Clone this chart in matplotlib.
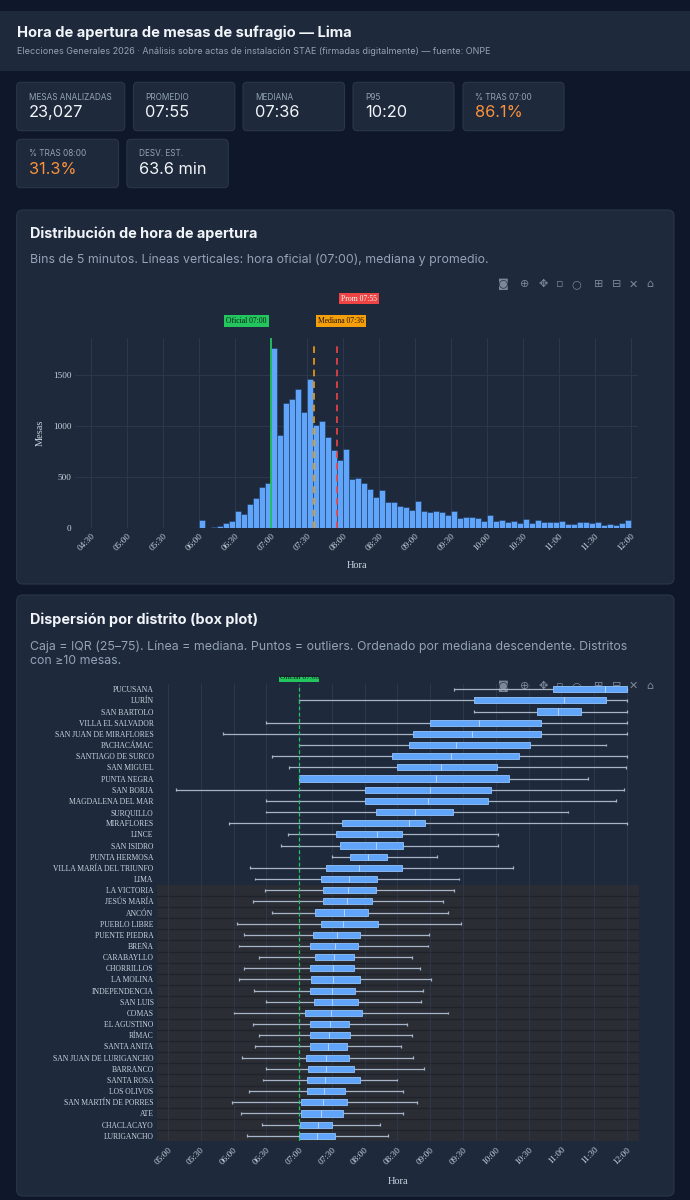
import matplotlib.pyplot as plt
from matplotlib.patches import FancyBboxPatch, Rectangle

# ---- data ----
kpi_labels = ['MESAS ANALIZADAS', 'PROMEDIO', 'MEDIANA', 'P95', '% TRAS 07:00', '% TRAS 08:00', 'DESV. EST.']
kpi_values = ['23,027', '07:55', '07:36', '10:20', '86.1%', '31.3%', '63.6 min']
kpi_warn = [False, False, False, False, True, True, False]

bin_starts = ['06:00', '06:05', '06:10', '06:15', '06:20', '06:25', '06:30', '06:35', '06:40', '06:45', '06:50', '06:55',
              '07:00', '07:05', '07:10', '07:15', '07:20', '07:25', '07:30', '07:35', '07:40', '07:45', '07:50', '07:55',
              '08:00', '08:05', '08:10', '08:15', '08:20', '08:25', '08:30', '08:35', '08:40', '08:45', '08:50', '08:55',
              '09:00', '09:05', '09:10', '09:15', '09:20', '09:25', '09:30', '09:35', '09:40', '09:45', '09:50', '09:55',
              '10:00', '10:05', '10:10', '10:15', '10:20', '10:25', '10:30', '10:35', '10:40', '10:45', '10:50', '10:55',
              '11:00', '11:05', '11:10', '11:15', '11:20', '11:25', '11:30', '11:35', '11:40', '11:45', '11:50', '11:55']
bin_counts = [78, 5, 15, 25, 48, 70, 165, 135, 235, 300, 400, 440,
              1760, 907, 1220, 1260, 1360, 1140, 1455, 1010, 1045, 895, 760, 670,
              770, 478, 490, 445, 383, 302, 370, 253, 260, 218, 211, 182,
              270, 169, 159, 172, 159, 130, 172, 98, 114, 107, 101, 72,
              127, 68, 78, 59, 72, 55, 94, 49, 78, 62, 59, 59,
              68, 46, 46, 59, 59, 49, 62, 33, 42, 33, 49, 81]
oficial = '07:00'
mediana = '07:36'
promedio = '07:55'

districts = ['PUCUSANA', 'LURÍN', 'SAN BARTOLO', 'VILLA EL SALVADOR', 'SAN JUAN DE MIRAFLORES', 'PACHACÁMAC',
             'SANTIAGO DE SURCO', 'SAN MIGUEL', 'PUNTA NEGRA', 'SAN BORJA', 'MAGDALENA DEL MAR', 'SURQUILLO',
             'MIRAFLORES', 'LINCE', 'SAN ISIDRO', 'PUNTA HERMOSA', 'VILLA MARÍA DEL TRIUNFO', 'LIMA',
             'LA VICTORIA', 'JESÚS MARÍA', 'ANCÓN', 'PUEBLO LIBRE', 'PUENTE PIEDRA', 'BREÑA', 'CARABAYLLO',
             'CHORRILLOS', 'LA MOLINA', 'INDEPENDENCIA', 'SAN LUIS', 'COMAS', 'EL AGUSTINO', 'RÍMAC',
             'SANTA ANITA', 'SAN JUAN DE LURIGANCHO', 'BARRANCO', 'SANTA ROSA', 'LOS OLIVOS',
             'SAN MARTÍN DE PORRES', 'ATE', 'CHACLACAYO', 'LURIGANCHO']
# minutes after midnight
w_low = [562, 420, 580, 390, 350, 420, 395, 411, 420, 307, 390, 390, 356, 410, 403, 450, 375, 380,
         389, 378, 395, 363, 370, 365, 383, 370, 365, 379, 390, 360, 378, 383, 380, 368, 390, 387, 374,
         359, 367, 386, 372]
q1 = [652, 580, 638, 540, 524, 521, 505, 510, 420, 480, 480, 490, 459, 454, 457, 467, 445, 440,
      442, 442, 435, 440, 433, 430, 435, 430, 431, 430, 434, 425, 430, 430, 430, 426, 428, 427, 427,
      422, 422, 421, 420]
med = [700, 662, 657, 585, 578, 564, 559, 550, 545, 540, 538, 526, 521, 491, 490, 483, 475, 466,
       465, 464, 461, 460, 455, 453, 452, 451, 451, 450, 450, 449, 448, 447, 446, 445, 445, 444, 443,
       442, 440, 437, 436]
q3 = [720, 701, 678, 641, 641, 631, 621, 601, 612, 596, 593, 561, 535, 514, 515, 500, 514, 491,
      490, 487, 483, 492, 476, 474, 470, 470, 476, 471, 474, 478, 466, 467, 464, 466, 470, 476, 462,
      464, 460, 450, 453]
w_high = [720, 720, 720, 720, 720, 701, 720, 719, 684, 717, 710, 666, 720, 602, 602, 546, 616, 566,
          562, 552, 556, 568, 539, 538, 523, 531, 541, 533, 532, 556, 519, 523, 513, 524, 534, 510, 515,
          528, 515, 494, 501]

# ---- style ----
PAGE = '#0f172a'
CARD = '#1e293b'
BORDER = '#2b3649'
TXT = '#f1f5f9'
MUTED = '#94a3b8'
AX_TXT = '#cbd5e1'
GRID = '#2e3a4f'
BLUE = '#60a5fa'
SANS = ['Inter', 'DejaVu Sans']
SERIF = ['Liberation Serif', 'DejaVu Serif']


def to_min(s):
    h, m = s.split(':')
    return int(h) * 60 + int(m)


def fmt(m, pos=None):
    return '%02d:%02d' % (m // 60, m % 60)


W, H = 690, 1200
fig = plt.figure(figsize=(6.9, 12), dpi=100)
fig.patch.set_facecolor(PAGE)
bg = fig.add_axes([0, 0, 1, 1])
bg.set_xlim(0, W)
bg.set_ylim(H, 0)
bg.axis('off')


def card(x0, y0, x1, y1, r=6):
    bg.add_patch(FancyBboxPatch((x0, y0), x1 - x0, y1 - y0, boxstyle='round,pad=0,rounding_size=%g' % r,
                                fc=CARD, ec=BORDER, lw=0.8))


def px_axes(l, t, r, b):
    return fig.add_axes([l / W, 1 - b / H, (r - l) / W, (b - t) / H])


# header
bg.add_patch(Rectangle((0, 11), W, 60, fc=CARD, ec='none'))
bg.text(17, 33, 'Hora de apertura de mesas de sufragio — Lima', family=SANS, fontsize=10.6,
        fontweight='bold', color=TXT, va='center')
bg.text(17, 52, 'Elecciones Generales 2026 · Análisis sobre actas de instalación STAE (firmadas digitalmente) — fuente: ONPE',
        family=SANS, fontsize=6.5, color=MUTED, va='center')

# KPI cards
kpi_boxes = [(16.7, 82.3, 124.7, 130.7), (133.5, 82.3, 234.8, 130.7), (243, 82.3, 344.5, 130.7),
             (353, 82.3, 454, 130.7), (463, 82.3, 564, 130.7),
             (16.7, 139.3, 118.5, 187.7), (126.9, 139.3, 228.2, 187.7)]
for (x0, y0, x1, y1), lab, val, warn in zip(kpi_boxes, kpi_labels, kpi_values, kpi_warn):
    card(x0, y0, x1, y1, r=4)
    bg.text(x0 + 12, y0 + 14.7, lab, family=SANS, fontsize=5.9, color=MUTED, va='center')
    bg.text(x0 + 12, y0 + 30, val, family=SANS, fontsize=11.8, color='#fb923c' if warn else TXT, va='center')

# chart cards
card(16.7, 210, 674, 584)
bg.text(30.4, 233.3, 'Distribución de hora de apertura', family=SANS, fontsize=10.4, fontweight='bold',
        color=TXT, va='center')
bg.text(30.4, 260, 'Bins de 5 minutos. Líneas verticales: hora oficial (07:00), mediana y promedio.',
        family=SANS, fontsize=8.9, color=MUTED, va='center')

card(16.7, 595, 674, 1196)
bg.text(30.4, 619.3, 'Dispersión por distrito (box plot)', family=SANS, fontsize=10.4, fontweight='bold',
        color=TXT, va='center')
bg.text(30.4, 653.7, 'Caja = IQR (25–75). Línea = mediana. Puntos = outliers. Ordenado por mediana descendente. Distritos\ncon ≥10 mesas.',
        family=SANS, fontsize=8.9, color=MUTED, va='center', linespacing=1.3)


def modebar(y):
    icons = ['◙', '⊕', '✥', '▫', '○', '⊞', '⊟', '✕', '⌂']
    xs = [503.5, 525, 543, 559.5, 576, 598.7, 616.7, 633, 650]
    for x, ic in zip(xs, icons):
        bg.text(x, y, ic, family=['DejaVu Sans'], fontsize=8, color='#7d8799', ha='center', va='center', zorder=20)


modebar(284.3)

# ---- histogram ----
ax = px_axes(75, 338.3, 638.3, 528.3)
ax.set_facecolor('none')
starts = [to_min(s) for s in bin_starts]
ax.bar(starts, bin_counts, width=5, align='edge', color=BLUE, edgecolor='#1e3a5f', linewidth=0.4, zorder=2)
ax.set_xlim(256.7, 726.3)
ax.set_ylim(0, max(bin_counts) * 1.054)
ax.set_xticks(range(270, 721, 30))
ax.set_xticklabels([fmt(m) for m in range(270, 721, 30)])
ax.set_yticks([0, 500, 1000, 1500])
ax.grid(True, color=GRID, lw=0.6, zorder=0)
ax.set_axisbelow(True)
for s in ax.spines.values():
    s.set_visible(False)
ax.axhline(0, color='#3b4a63', lw=0.8, zorder=1)
ax.tick_params(length=0, colors=AX_TXT, labelsize=6.6, pad=2.5)
for t in ax.get_xticklabels():
    t.set_rotation(45)
    t.set_ha('right')
    t.set_va('top')
    t.set_rotation_mode('anchor')
for t in ax.get_xticklabels() + ax.get_yticklabels():
    t.set_family(SERIF)
ax.set_xlabel('Hora', family=SERIF, fontsize=7.5, color=AX_TXT, labelpad=6)
ax.set_ylabel('Mesas', family=SERIF, fontsize=7.5, color=AX_TXT, labelpad=6)

x_of, x_med, x_prom = to_min(oficial), to_min(mediana), to_min(promedio)
top_dash = max(bin_counts) * 1.02
ax.axvline(x_of, color='#22c55e', lw=1.3, zorder=4)
ax.vlines(x_med, 0, top_dash, color='#f59e0b', lw=1.2, linestyles=(0, (4, 3)), zorder=4)
ax.vlines(x_prom, 0, top_dash, color='#ef4444', lw=1.2, linestyles=(0, (4, 3)), zorder=4)
lab_kw = dict(xycoords=('data', 'axes fraction'), textcoords='offset points', family=SERIF, fontsize=5.5, va='center')
ax.annotate('Oficial 07:00', xy=(x_of, 1), xytext=(-3, 12.5), ha='right', color='#0b1a10',
            bbox=dict(boxstyle='square,pad=0.25', fc='#22c55e', ec='none'), **lab_kw)
ax.annotate('Mediana 07:36', xy=(x_med, 1), xytext=(3, 12.5), ha='left', color='#1f1400',
            bbox=dict(boxstyle='square,pad=0.25', fc='#f59e0b', ec='none'), **lab_kw)
ax.annotate('Prom 07:55', xy=(x_prom, 1), xytext=(3, 28.6), ha='left', color='white',
            bbox=dict(boxstyle='square,pad=0.25', fc='#ef4444', ec='none'), **lab_kw)

# ---- box plot ----
bx = px_axes(157, 683.6, 639, 1141.4)
bx.set_facecolor('none')
n = len(districts)
ys = list(range(n))
gray_from = districts.index('LA VICTORIA')
bx.axhspan(gray_from - 0.5, n - 0.5, color='#2b2d34', zorder=0)
bx.hlines([i + 0.5 for i in range(gray_from, n - 1)], 290, 731, color='#202229', lw=0.9, zorder=0.5)
bx.set_xlim(290, 731)
bx.set_ylim(n - 0.5, -0.5)
bx.set_xticks(range(300, 721, 30))
bx.set_xticklabels([fmt(m) for m in range(300, 721, 30)])
bx.set_yticks(ys)
bx.set_yticklabels(districts)
bx.grid(True, axis='x', color=GRID, lw=0.6, zorder=0.6)
bx.set_axisbelow(True)
for s in bx.spines.values():
    s.set_visible(False)
bx.tick_params(length=0, colors=AX_TXT)
bx.tick_params(axis='y', labelsize=5.5, pad=2.5)
bx.tick_params(axis='x', labelsize=6.6, pad=3)
for t in bx.get_xticklabels():
    t.set_rotation(45)
    t.set_ha('right')
    t.set_va('top')
    t.set_rotation_mode('anchor')
for t in bx.get_xticklabels() + bx.get_yticklabels():
    t.set_family(SERIF)
bx.set_xlabel('Hora', family=SERIF, fontsize=7.5, color=AX_TXT, labelpad=8)

bh = 0.55
wcol = '#a8b5c8'
bx.hlines(ys, w_low, q1, color=wcol, lw=0.9, zorder=2)
bx.hlines(ys, q3, w_high, color=wcol, lw=0.9, zorder=2)
bx.vlines(w_low, [y - 0.13 for y in ys], [y + 0.13 for y in ys], color=wcol, lw=0.9, zorder=2)
bx.vlines(w_high, [y - 0.13 for y in ys], [y + 0.13 for y in ys], color=wcol, lw=0.9, zorder=2)
bx.barh(ys, [b - a for a, b in zip(q1, q3)], left=q1, height=bh, color=BLUE, edgecolor='#93c5fd',
        linewidth=0.6, zorder=3)
bx.vlines(med, [y - bh / 2 for y in ys], [y + bh / 2 for y in ys], color='#dbeafe', lw=0.7, alpha=0.7, zorder=4)
bx.axvline(x_of, color='#22c55e', lw=0.9, ls=(0, (3, 2)), zorder=5)

# clipped "Oficial" tag at top of the box chart
x_tag = 157 + (x_of - 290) / (731 - 290) * (639 - 157)
bg.add_patch(Rectangle((x_tag - 20, 676.5), 40, 5.5, fc='#22c55e', ec='none', zorder=6))
tag = bg.text(x_tag, 677.5, 'Oficial 07:00', family=SERIF, fontsize=5.3, color='#0b1a10',
              ha='center', va='center', zorder=7)
tag.set_clip_path(Rectangle((0, 676.5), W, 6, transform=bg.transData))

modebar(686)

fig.savefig('out.png', dpi=100, facecolor=PAGE)
